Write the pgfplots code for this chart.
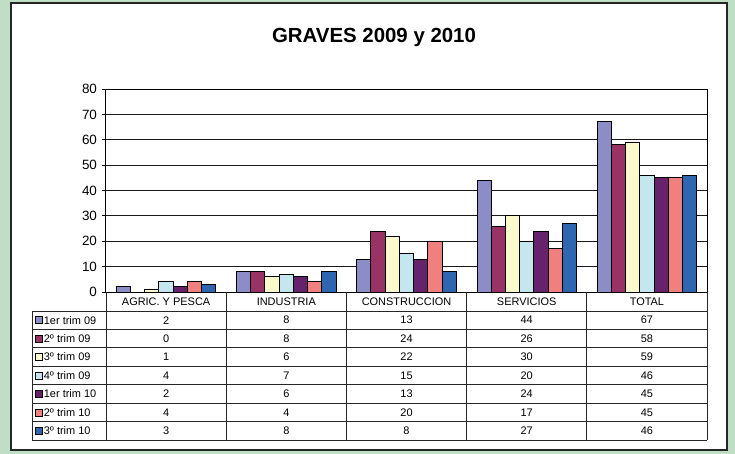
\documentclass[border=0pt]{standalone}
\usepackage{pgfplots}
\usepackage{pgfplotstable}
\pgfplotsset{compat=1.18}
\usepackage{fontspec}
\setmainfont{Liberation Sans}
\definecolor{bggreen}{RGB}{192,222,198}
\definecolor{sA}{RGB}{140,140,198}
\definecolor{sB}{RGB}{153,51,102}
\definecolor{sC}{RGB}{250,250,204}
\definecolor{sD}{RGB}{196,230,238}
\definecolor{sE}{RGB}{102,34,106}
\definecolor{sF}{RGB}{240,128,128}
\definecolor{sG}{RGB}{46,102,178}
\pgfplotstableread{
cat s1 s2 s3 s4 s5 s6 s7
0 2 0 1 4 2 4 3
1 8 8 6 7 6 4 8
2 13 24 22 15 13 20 8
3 44 26 30 20 24 17 27
4 67 58 59 46 45 45 46
}\datatable
\begin{document}
\begin{tikzpicture}
% background and chart area
\fill[bggreen] (-106bp,-162bp) rectangle (629bp,292bp);
\filldraw[fill=white, draw=black!85, line width=1.5bp] (-95bp,-158bp) rectangle (621bp,289bp);
\node[font=\fontsize{20.5}{22}\selectfont\bfseries] at (268bp,255bp) {GRAVES 2009 y 2010};
\begin{axis}[
  scale only axis, width=601bp, height=203bp,
  at={(0,0)}, anchor=south west,
  xmin=-0.5, xmax=4.5, ymin=0, ymax=80,
  ybar=0pt, bar width=14.2bp,
  ytick={0,10,...,80}, xtick=\empty,
  ymajorgrids, grid style={black!90, line width=0.8bp},
  axis line style={black, line width=1bp},
  tick align=outside, ytick pos=left, major tick length=4bp,
  tick style={black, line width=0.8bp},
  yticklabel style={font=\fontsize{13.5}{13}\selectfont, xshift=-1.5bp},
  /pgf/number format/assume math mode=true,
  axis background/.style={fill=white},
  every axis plot/.append style={draw=black, line width=1bp},
  legend image code/.code={\draw[#1, draw=black, line width=0.6bp] (0bp,-3.5bp) rectangle (7bp,3.5bp);},
  legend style={at={(-0.11814,-0.09360)}, anchor=north west, draw=none, fill=none,
    inner sep=0pt, outer sep=0pt, row sep=0pt,
    font=\fontsize{11}{12}\selectfont,
    nodes={inner xsep=1.3bp, inner ysep=0pt, text height=13.1bp, text depth=5.33bp}},
  legend cell align=left,
]
\addplot[fill=sA] table[x=cat,y=s1]{\datatable};
\addplot[fill=sB] table[x=cat,y=s2]{\datatable};
\addplot[fill=sC] table[x=cat,y=s3]{\datatable};
\addplot[fill=sD] table[x=cat,y=s4]{\datatable};
\addplot[fill=sE] table[x=cat,y=s5]{\datatable};
\addplot[fill=sF] table[x=cat,y=s6]{\datatable};
\addplot[fill=sG] table[x=cat,y=s7]{\datatable};
\legend{1er trim 09, 2º trim 09, 3º trim 09, 4º trim 09, 1er trim 10, 2º trim 10, 3º trim 10}
\end{axis}
% data table grid
\begin{scope}[black!85, line width=0.8bp]
\foreach \k in {0,...,7}{
  \draw (-74bp,{-19bp-18.4286bp*\k}) -- (601bp,{-19bp-18.4286bp*\k});
}
\draw (-74bp,-19bp) -- (-74bp,-148bp);
\foreach \c in {0,...,5}{
  \draw ({120.2bp*\c},0bp) -- ({120.2bp*\c},-148bp);
}
\end{scope}
\foreach \c/\name in {0/{AGRIC. Y PESCA},1/INDUSTRIA,2/CONSTRUCCION,3/SERVICIOS,4/TOTAL}{
  \node[font=\fontsize{11}{12}\selectfont, inner sep=0pt] at ({60.1bp+120.2bp*\c},-9.5bp) {\name};
}
\foreach \c in {0,...,4}{
  \foreach \r in {1,...,7}{
    \pgfplotstablegetelem{\c}{[index]\r}\of\datatable
    \node[font=\fontsize{11}{12}\selectfont, inner sep=0pt] at ({60.1bp+120.2bp*\c},{-19bp-18.4286bp*(\r-0.5)}) {\pgfplotsretval};
  }
}
\end{tikzpicture}
\end{document}
